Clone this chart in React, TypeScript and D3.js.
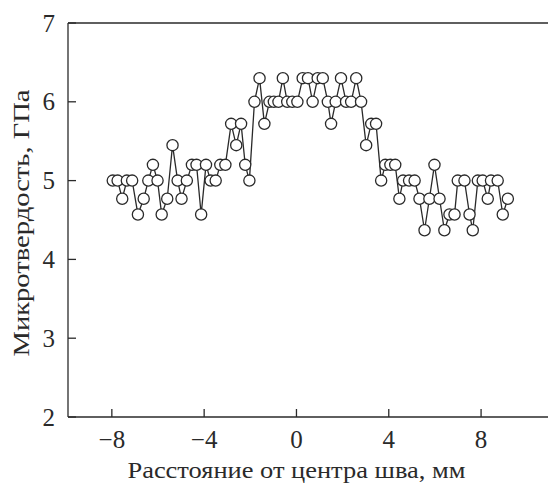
import React from "react";
import * as d3 from "d3";

// distance from weld centre, mm
const distance = [
  -7.96, -7.75, -7.55, -7.35, -7.12, -6.87, -6.62, -6.42, -6.22, -6.02,
  -5.84, -5.6, -5.37, -5.15, -4.98, -4.75, -4.53, -4.33, -4.13, -3.92,
  -3.72, -3.5, -3.3, -3.08, -2.83, -2.61, -2.4, -2.22, -2.04, -1.82,
  -1.6, -1.39, -1.17, -0.98, -0.78, -0.59, -0.4, -0.18, 0.04, 0.27,
  0.5, 0.7, 0.92, 1.14, 1.36, 1.5, 1.7, 1.93, 2.15, 2.37,
  2.59, 2.8, 3.02, 3.24, 3.45, 3.67, 3.85, 4.07, 4.28, 4.46,
  4.62, 4.88, 5.12, 5.33, 5.55, 5.76, 5.98, 6.2, 6.41, 6.63,
  6.85, 6.99, 7.28, 7.5, 7.64, 7.86, 8.07, 8.29, 8.43, 8.72,
  8.94, 9.16,
];

// microhardness, GPa
const hardness = [
  5.0, 5.0, 4.77, 5.0, 5.0, 4.57, 4.77, 5.0, 5.2, 5.0,
  4.57, 4.77, 5.45, 5.0, 4.77, 5.0, 5.2, 5.2, 4.57, 5.2,
  5.0, 5.0, 5.2, 5.2, 5.72, 5.45, 5.72, 5.2, 5.0, 6.0,
  6.3, 5.72, 6.0, 6.0, 6.0, 6.3, 6.0, 6.0, 6.0, 6.3,
  6.3, 6.0, 6.3, 6.3, 6.0, 5.72, 6.0, 6.3, 6.0, 6.0,
  6.3, 6.0, 5.45, 5.72, 5.72, 5.0, 5.2, 5.2, 5.2, 4.77,
  5.0, 5.0, 5.0, 4.77, 4.37, 4.77, 5.2, 4.77, 4.37, 4.57,
  4.57, 5.0, 5.0, 4.57, 4.37, 5.0, 5.0, 4.77, 5.0, 5.0,
  4.57, 4.77,
];

const xTicks = [-8, -4, 0, 4, 8];
const yTicks = [2, 3, 4, 5, 6, 7];

const font = "'Liberation Serif', 'Times New Roman', serif";
const ink = "#2a2a2a";

const App = () => {
  const width = 548;
  const height = 484;
  const margin = { top: 23, right: 0, bottom: 67, left: 68 };

  const x = d3.scaleLinear().domain([-9.9, 10.9]).range([margin.left, width - margin.right]);
  const y = d3.scaleLinear().domain([2, 7]).range([height - margin.bottom, margin.top]);

  const points = distance.map((d, i) => [d, hardness[i]]);
  const line = d3.line().x(d => x(d[0])).y(d => y(d[1]));

  const x0 = margin.left;
  const y0 = height - margin.bottom;

  return (
    <svg width={width} height={height} style={{ position: "absolute", left: 0, top: 0 }}>
      <rect width={width} height={height} fill="white" />

      {/* frame */}
      <line x1={x0} x2={x0} y1={margin.top} y2={y0} stroke={ink} strokeWidth={1.3} />
      <line x1={x0} x2={width} y1={y0} y2={y0} stroke={ink} strokeWidth={1.3} />
      <line x1={x0} x2={width} y1={margin.top} y2={margin.top} stroke={ink} strokeWidth={1.3} />

      {xTicks.map(t => (
        <g key={"x" + t}>
          <line x1={x(t)} x2={x(t)} y1={y0} y2={y0 - 8} stroke={ink} strokeWidth={1.3} />
          <text x={x(t)} y={y0 + 31} textAnchor="middle" fontFamily={font} fontSize={25} fill={ink}>
            {t < 0 ? "\u2212" + Math.abs(t) : t}
          </text>
        </g>
      ))}

      {yTicks.map(t => (
        <g key={"y" + t}>
          <line x1={x0} x2={x0 + 8} y1={y(t)} y2={y(t)} stroke={ink} strokeWidth={1.3} />
          <text x={55} y={y(t)} dy="0.34em" textAnchor="end" fontFamily={font} fontSize={25} fill={ink}>
            {t}
          </text>
        </g>
      ))}

      <text
        x={x(0)}
        y={478}
        textAnchor="middle"
        fontFamily={font}
        fontSize={24}
        fill={ink}
        textLength={338}
        lengthAdjust="spacingAndGlyphs"
      >
        Расстояние от центра шва, мм
      </text>
      <text
        transform={`translate(29 ${(margin.top + y0) / 2 + 3}) rotate(-90)`}
        textAnchor="middle"
        fontFamily={font}
        fontSize={24}
        fill={ink}
        textLength={267}
        lengthAdjust="spacingAndGlyphs"
      >
        Микротвердость, ГПа
      </text>

      <path d={line(points)} fill="none" stroke={ink} strokeWidth={1.3} />
      {points.map((p, i) => (
        <circle key={i} cx={x(p[0])} cy={y(p[1])} r={5.6} fill="white" stroke={ink} strokeWidth={1.3} />
      ))}
    </svg>
  );
};

export default App;
